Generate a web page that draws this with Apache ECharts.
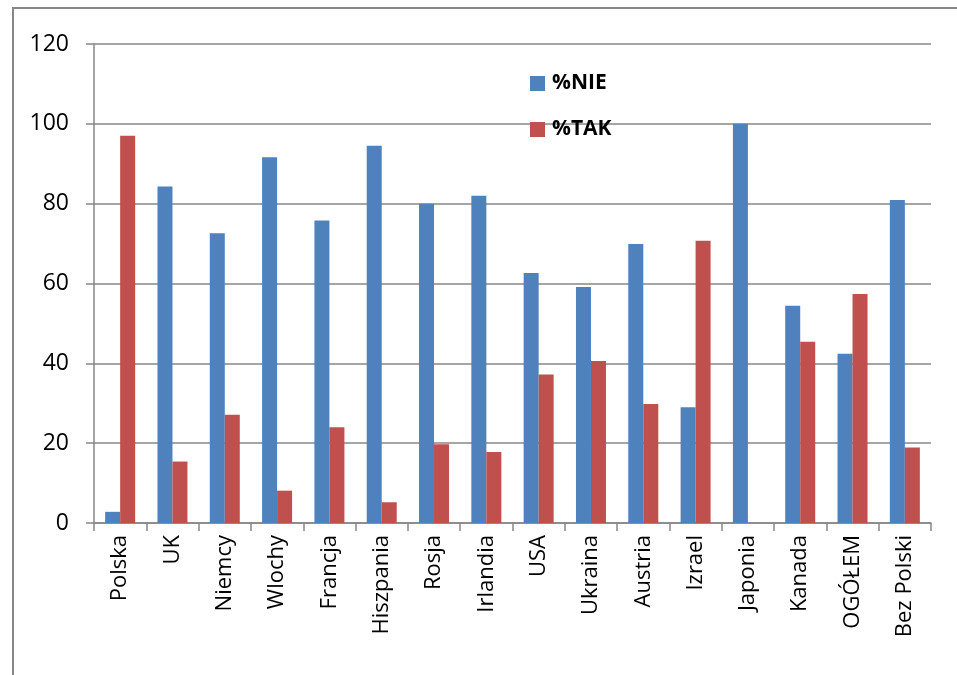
<!DOCTYPE html>
<html>
<head>
<meta charset="utf-8">
<script src="https://cdn.jsdelivr.net/npm/echarts@6/dist/echarts.min.js"></script>
<style>
html,body{margin:0;padding:0;background:#fff;}
#c{width:957px;height:675px;}
</style>
</head>
<body>
<div id="c"></div>
<script>
const categories = ['Polska','UK','Niemcy','Wlochy','Francja','Hiszpania','Rosja','Irlandia','USA','Ukraina','Austria','Izrael','Japonia','Kanada','OGÓŁEM','Bez Polski'];
const nieValues = [2.8, 84.3, 72.6, 91.6, 75.8, 94.5, 80.0, 82.0, 62.6, 59.1, 69.9, 29.0, 100, 54.4, 42.4, 80.9];
const takValues = [97.0, 15.4, 27.1, 8.1, 24.0, 5.2, 19.7, 17.8, 37.2, 40.6, 29.8, 70.7, 0, 45.4, 57.4, 18.9];
const seriesNames = ['%NIE', '%TAK'];
const yTicks = [0, 20, 40, 60, 80, 100, 120];

const chart = echarts.init(document.getElementById('c'), null, {renderer: 'canvas'});
const gridColor = '#878787';
chart.setOption({
  animation: false,
  backgroundColor: '#ffffff',
  graphic: [{
    type: 'rect',
    shape: {x: 13, y: 8, width: 1000, height: 700},
    style: {fill: 'none', stroke: gridColor, lineWidth: 2},
    silent: true
  }],
  legend: {
    orient: 'vertical',
    left: 530,
    top: 73,
    padding: 0,
    itemWidth: 15,
    itemHeight: 15,
    itemGap: 25,
    icon: 'rect',
    textStyle: {fontFamily: 'Open Sans', fontWeight: 'bold', fontSize: 21, lineHeight: 15, color: '#000', padding: [0, 0, 0, 2]},
    data: seriesNames
  },
  grid: {left: 94, right: 26, top: 44, bottom: 152, containLabel: false},
  xAxis: {
    type: 'category',
    data: categories,
    axisLine: {show: true, lineStyle: {color: gridColor, width: 1.5}},
    axisTick: {show: true, alignWithLabel: false, length: 8, lineStyle: {color: gridColor, width: 1.5}},
    axisLabel: {rotate: 90, margin: 12, fontFamily: 'Open Sans', fontSize: 22, color: '#000', interval: 0}
  },
  yAxis: {
    type: 'value',
    min: yTicks[0],
    max: yTicks[yTicks.length - 1],
    interval: 20,
    axisLine: {show: true, lineStyle: {color: gridColor, width: 1.5}},
    axisTick: {show: true, inside: false, length: 8, lineStyle: {color: gridColor, width: 1.5}},
    splitLine: {show: true, lineStyle: {color: gridColor, width: 1.5}},
    axisLabel: {margin: 25, fontFamily: 'Open Sans', fontSize: 23, color: '#000'}
  },
  series: [
    {name: seriesNames[0], type: 'bar', data: nieValues, barWidth: 15, barGap: '0%',
     itemStyle: {color: '#4F81BD'}},
    {name: seriesNames[1], type: 'bar', data: takValues, barWidth: 15, barGap: '0%',
     itemStyle: {color: '#C0504D'}}
  ]
});
</script>
</body>
</html>
